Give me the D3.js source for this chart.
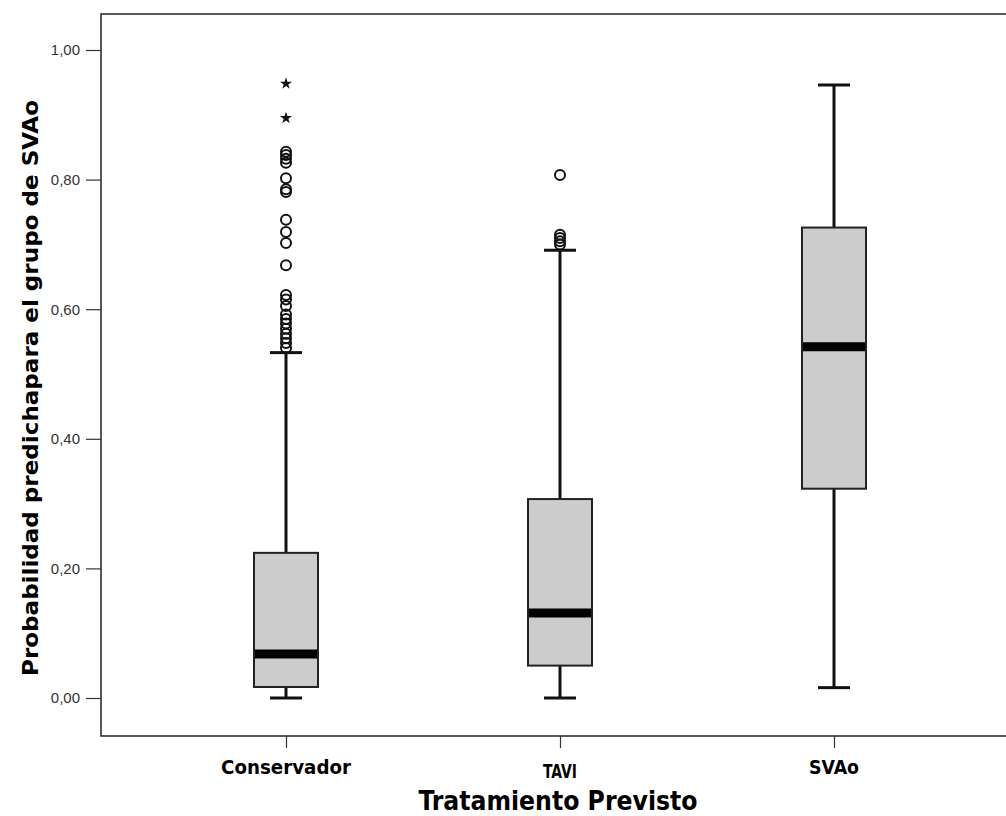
<!DOCTYPE html>
<html>
<head>
<meta charset="utf-8">
<script src="https://cdn.jsdelivr.net/npm/d3@7"></script>
<style>
  body { margin: 0; background: #fff; }
  svg { display: block; }
</style>
</head>
<body>
<div id="chart"></div>
<script>
// categories and box statistics
const categories = ["Conservador", "TAVI", "SVAo"];
const whiskerLow = [0.000, 0.000, 0.016];
const q1 = [0.017, 0.050, 0.323];
const median = [0.068, 0.131, 0.542];
const q3 = [0.224, 0.307, 0.726];
const whiskerHigh = [0.533, 0.691, 0.946];

// outliers (circles) and extremes (stars)
const outliers = [
  [0.843, 0.838, 0.832, 0.826, 0.802, 0.785, 0.781, 0.738, 0.719, 0.702, 0.668,
   0.622, 0.615, 0.605, 0.592, 0.585, 0.578, 0.570, 0.562, 0.555, 0.548, 0.540],
  [0.807, 0.715, 0.710, 0.705, 0.700],
  []
];
const extremes = [[0.948, 0.895], [], []];

const yTicks = [0, 0.2, 0.4, 0.6, 0.8, 1.0];

const W = 1006, H = 816;
const plot = { left: 101, top: 14, right: 1010, bottom: 736 };

const svg = d3.select("#chart").append("svg")
    .attr("width", W)
    .attr("height", H);

const y = d3.scaleLinear().domain([0, 1]).range([698, 50]);
const x = d3.scalePoint().domain(categories).range([286, 834]);

const boxW = 64, capW = 32;
const narrow = "'Liberation Sans Narrow', 'Arial Narrow', 'DejaVu Sans Condensed', sans-serif";

// frame
svg.append("path")
    .attr("d", `M${plot.right},${plot.top}H${plot.left}V${plot.bottom}H${plot.right}`)
    .attr("fill", "none")
    .attr("stroke", "#222")
    .attr("stroke-width", 1.5);

// y axis
const yAxis = svg.append("g")
    .attr("transform", `translate(${plot.left},0)`)
    .call(d3.axisLeft(y).tickValues(yTicks).tickSize(15).tickPadding(6)
        .tickFormat(d => d3.format(".2f")(d).replace(".", ",")));
yAxis.select(".domain").remove();
yAxis.selectAll("line").attr("stroke", "#333").attr("stroke-width", 1.2);
yAxis.selectAll("text")
    .attr("font-family", "'Liberation Sans', Arial, sans-serif")
    .attr("font-size", 15)
    .attr("fill", "#333");

// x axis
const xAxis = svg.append("g")
    .attr("transform", `translate(0,${plot.bottom})`)
    .call(d3.axisBottom(x).tickSize(12).tickFormat(""));
xAxis.select(".domain").remove();
xAxis.selectAll("line").attr("stroke", "#333").attr("stroke-width", 1.2);

const labelLen = { "Conservador": 130, "TAVI": 34, "SVAo": 50 };
const labelY = { "Conservador": 774, "TAVI": 778, "SVAo": 774 };
svg.append("g").selectAll("text")
    .data(categories)
    .join("text")
    .attr("x", d => x(d))
    .attr("y", d => labelY[d])
    .attr("text-anchor", "middle")
    .attr("font-family", narrow)
    .attr("font-weight", "bold")
    .attr("font-size", 19)
    .attr("textLength", d => labelLen[d])
    .attr("lengthAdjust", "spacingAndGlyphs")
    .text(d => d);

svg.append("text")
    .attr("x", 558)
    .attr("y", 810)
    .attr("text-anchor", "middle")
    .attr("font-family", narrow)
    .attr("font-weight", "bold")
    .attr("font-size", 26)
    .attr("textLength", 279)
    .attr("lengthAdjust", "spacingAndGlyphs")
    .text("Tratamiento Previsto");

svg.append("text")
    .attr("transform", "translate(38,388) rotate(-90)")
    .attr("text-anchor", "middle")
    .attr("font-family", narrow)
    .attr("font-weight", "bold")
    .attr("font-size", 22)
    .attr("textLength", 576)
    .attr("lengthAdjust", "spacingAndGlyphs")
    .text("Probabilidad predichapara el grupo de SVAo");

// boxes
const boxes = svg.append("g").selectAll("g")
    .data(categories)
    .join("g");

boxes.append("line")
    .attr("x1", d => x(d)).attr("x2", d => x(d))
    .attr("y1", (d, i) => y(whiskerLow[i]))
    .attr("y2", (d, i) => y(whiskerHigh[i]))
    .attr("stroke", "#111").attr("stroke-width", 3);

boxes.selectAll("line.cap")
    .data((d, i) => [whiskerLow[i], whiskerHigh[i]].map(v => ({ c: d, v })))
    .join("line")
    .attr("class", "cap")
    .attr("x1", d => x(d.c) - capW / 2)
    .attr("x2", d => x(d.c) + capW / 2)
    .attr("y1", d => y(d.v)).attr("y2", d => y(d.v))
    .attr("stroke", "#111").attr("stroke-width", 3);

boxes.append("rect")
    .attr("x", d => x(d) - boxW / 2)
    .attr("width", boxW)
    .attr("y", (d, i) => y(q3[i]))
    .attr("height", (d, i) => y(q1[i]) - y(q3[i]))
    .attr("fill", "#cccccc")
    .attr("stroke", "#222")
    .attr("stroke-width", 2);

boxes.append("line")
    .attr("x1", d => x(d) - boxW / 2 + 1)
    .attr("x2", d => x(d) + boxW / 2 - 1)
    .attr("y1", (d, i) => y(median[i])).attr("y2", (d, i) => y(median[i]))
    .attr("stroke", "#000").attr("stroke-width", 9);

// outlier circles
boxes.selectAll("circle")
    .data((d, i) => outliers[i].map(v => ({ c: d, v })))
    .join("circle")
    .attr("cx", d => x(d.c))
    .attr("cy", d => y(d.v))
    .attr("r", 5)
    .attr("fill", "none")
    .attr("stroke", "#111")
    .attr("stroke-width", 2);

// extreme stars
boxes.selectAll("path.star")
    .data((d, i) => extremes[i].map(v => ({ c: d, v })))
    .join("path")
    .attr("class", "star")
    .attr("transform", d => `translate(${x(d.c)},${y(d.v)})`)
    .attr("d", d3.symbol(d3.symbolStar, 45))
    .attr("fill", "#111");
</script>
</body>
</html>
